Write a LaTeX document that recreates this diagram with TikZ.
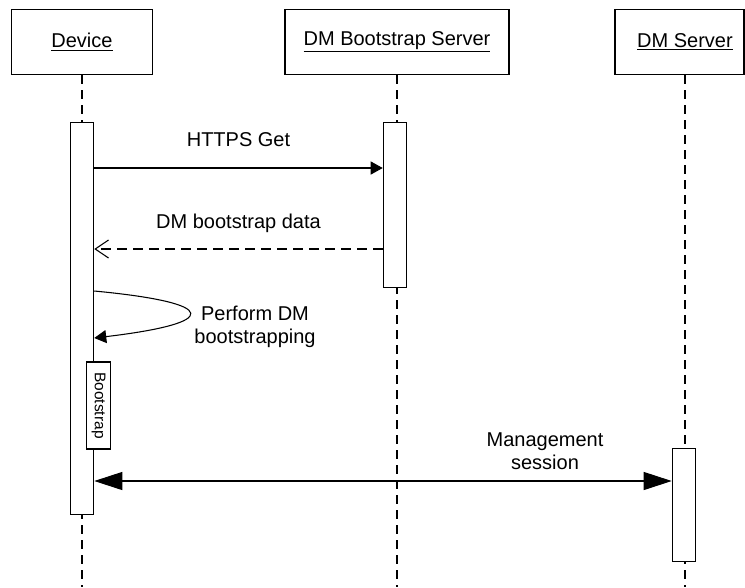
\documentclass[tikz,border=0pt]{standalone}
\usepackage{fontspec}
\setmainfont{Liberation Sans}
\usetikzlibrary{positioning,arrows.meta}
\tikzset{
	obj/.style={draw, line width=0.8pt, fill=white, minimum height=49pt, inner sep=0pt, font=\fontsize{15}{17.5}\selectfont},
	actbar/.style={draw, line width=0.8pt, fill=white, minimum width=17.6pt, anchor=north, inner sep=0pt},
	lifeline/.style={line width=0.8pt, dash pattern=on 6.75pt off 4.5pt},
	msg/.style={line width=0.8pt, -{Triangle[length=9pt,width=9.75pt]}},
	reply/.style={line width=0.8pt, dash pattern=on 7.5pt off 4.5pt, -{Straight Barb[length=10pt,width=13.5pt]}},
	sessmsg/.style={line width=0.8pt, {Triangle[length=21pt,width=13.5pt]}-{Triangle[length=21pt,width=13.5pt]}},
	msgtext/.style={font=\fontsize{15}{17.5}\selectfont, align=center, inner sep=0pt},
	bootbox/.style={draw, line width=0.8pt, fill=white, rotate=-90, minimum width=65.25pt, minimum height=18pt, inner sep=0pt, font=\fontsize{11.6}{13}\selectfont}
}

\begin{document}
\begin{tikzpicture}[x=0.75pt,y=-0.75pt]

	\useasboundingbox (0,0) rectangle (745,587);

	\node[obj, minimum width=105.4pt] (dev) at (82,42) {\underline{Device}};
	\node[obj, minimum width=168pt] (bss) at (397,42) {\underline{DM Bootstrap Server}};
	\node[obj, minimum width=96.75pt] (dms) at (679.5,42) {};
	\node[msgtext] (dmsname) at (685,42) {\underline{DM Server}};

	\coordinate (devend) at (82,587);
	\coordinate (bssend) at (397,587);
	\coordinate (dmsend) at (685,587);

	\draw[lifeline] (dev.south) -- (devend);
	\draw[lifeline] (bss.south) -- (bssend);
	\draw[lifeline] (dmsname |- dms.south) -- (dmsend);

	\node[actbar, minimum height=294.4pt] (devbar) at (82,121.5) {};
	\node[actbar, minimum height=123.75pt] (bssbar) at (395,122) {};
	\node[actbar, minimum height=84.75pt] (dmsbar) at (684,448) {};

	\coordinate (m1) at (0,168);
	\draw[msg] (devbar.east |- m1) -- (bssbar.west |- m1)
		node[msgtext, midway, anchor=base, yshift=16.5pt] (httpslabel) {HTTPS Get};

	\coordinate (m2) at (0,249);
	\draw[reply] (bssbar.west |- m2) -- (devbar.east |- m2)
		node[msgtext, midway, anchor=base, yshift=15.75pt] (datalabel) {DM bootstrap data};

	\coordinate (m3) at (0,291);
	\coordinate (m4) at (0,338);
	\draw[msg] (devbar.east |- m3) .. controls (221,303) and (221,323) .. (devbar.east |- m4);
	\node[msgtext] (selflabel) at (255,327) {Perform DM\\bootstrapping};

	\node[bootbox] (boot) at (98.7,405.5) {Bootstrap};

	\coordinate (m5) at (0,481);
	\draw[sessmsg] (devbar.east |- m5) -- (dmsbar.west |- m5);
	\node[msgtext] (mgmtlabel) at (545,451) {Management\\session};

\end{tikzpicture}
\end{document}
